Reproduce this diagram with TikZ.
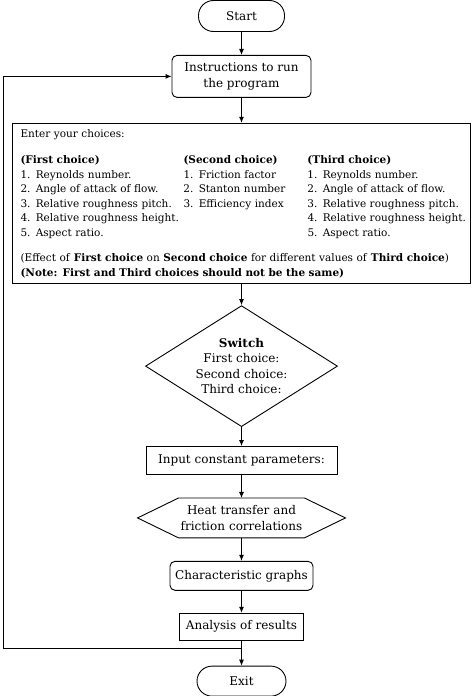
\documentclass[tikz,border=0pt]{standalone}
\usepackage{fontspec}
\setmainfont{DejaVu Serif}
\usetikzlibrary{positioning,shapes.geometric,arrows.meta}
\begin{document}
\begin{tikzpicture}[x=1pt,y=1pt,line width=0.9pt,
  every node/.style={font=\fontsize{12}{15.5}\selectfont},
  term/.style={draw,rounded corners=15pt,minimum width=86pt,minimum height=31pt,inner sep=2pt},
  proc/.style={draw,minimum height=28pt,inner sep=4pt},
  rproc/.style={proc,rounded corners=5pt},
  arr/.style={-{Latex[length=6pt,width=5pt]}}]
  \useasboundingbox (0,0) rectangle (474,-696);
  \node[term] (start) at (241.5,-16) {Start};
  \node[rproc,align=center,minimum width=139pt,minimum height=42pt,below=23pt of start] (instr) {Instructions to run\\the program};
  % Choices box
  \node[proc,inner xsep=8pt,inner ysep=6pt,text width=442pt,align=left,font=\fontsize{10.5}{14.5}\selectfont,below=25pt of instr] (choice) {Enter your choices:\\[13pt]
    \begin{tabular}{@{}p{163pt}@{}p{124pt}@{}l@{}}
      \textbf{(First choice)} & \textbf{(Second choice)} & \textbf{(Third choice)}\\
      1. Reynolds number. & 1. Friction factor & 1. Reynolds number.\\
      2. Angle of attack of flow. & 2. Stanton number & 2. Angle of attack of flow.\\
      3. Relative roughness pitch. & 3. Efficiency index & 3. Relative roughness pitch.\\
      4. Relative roughness height. & & 4. Relative roughness height.\\
      5. Aspect ratio. & & 5. Aspect ratio.
    \end{tabular}\\[12pt]
    (Effect of \textbf{First choice} on \textbf{Second choice} for different values of \textbf{Third choice})\\
    \textbf{(Note: First and Third choices should not be the same)}};
  \node[draw,diamond,aspect=1.59,minimum width=192pt,minimum height=121pt,inner sep=0pt,align=center,below=21pt of choice] (switch) {\textbf{Switch}\\First choice:\\Second choice:\\Third choice:};
  \node[proc,minimum width=191pt,below=19pt of switch] (input) {Input constant parameters:};
  % Hexagon
  \node[text width=125pt,minimum height=39pt,inner sep=0pt,align=center,below=23pt of input] (hex) {Heat transfer and\\friction correlations};
  \draw (hex.north west) -- (hex.north east) -- ([xshift=41pt]hex.east) -- (hex.south east)
    -- (hex.south west) -- ([xshift=-41pt]hex.west) -- cycle;
  \node[rproc,minimum width=143pt,minimum height=29pt,below=23pt of hex] (graphs) {Characteristic graphs};
  \node[proc,minimum width=124pt,minimum height=27pt,below=22pt of graphs] (ana) {Analysis of results};
  \node[term,minimum width=89pt,minimum height=30pt,below=25pt of ana] (exit) {Exit};
  % Main flow
  \draw[arr] (start) -- (instr);
  \draw[arr] (instr) -- (choice);
  \draw[arr] (choice) -- (switch);
  \draw[arr] (switch) -- (input);
  \draw[arr] (input) -- (hex);
  \draw[arr] (hex) -- (graphs);
  \draw[arr] (graphs) -- (ana);
  \draw[arr] (ana) -- (exit);
  % Loop back
  \coordinate (j) at ([yshift=-8pt]ana.south);
  \coordinate (side) at (3,0);
  \draw[arr] (j) -- (j -| side) |- (instr.west);
\end{tikzpicture}
\end{document}
